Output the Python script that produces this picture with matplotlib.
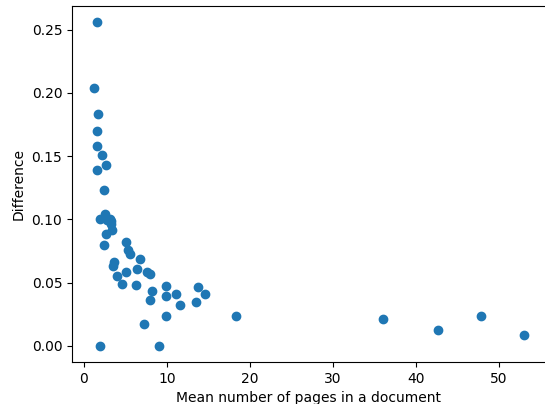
import numpy as np
import matplotlib
matplotlib.use('Agg')
import matplotlib.pyplot as plt

# mean pages per document vs difference
mean_pages = [1.54, 1.17, 1.75, 1.54, 1.63, 2.21, 2.67, 1.63, 2.46,
              1.96, 2.59, 2.8, 3.21, 3.3, 3.3, 3.42, 2.67, 2.46,
              5.13, 5.38, 5.55, 6.72, 3.63, 3.51, 6.39, 7.6, 7.93,
              5.13, 3.96, 4.55, 6.3, 9.85, 13.73, 8.22, 11.1, 14.6,
              9.85, 7.97, 11.56, 13.52, 9.93, 18.36, 7.3, 36.0, 42.7,
              47.9, 53.1, 1.96, 9.0]
difference = [0.256, 0.204, 0.1835, 0.170, 0.158, 0.151, 0.143, 0.139, 0.123,
              0.1005, 0.104, 0.0997, 0.1005, 0.0965, 0.099, 0.0918, 0.0883, 0.080,
              0.0825, 0.0754, 0.0728, 0.0686, 0.0662, 0.0628, 0.0604, 0.058, 0.057,
              0.058, 0.0549, 0.0488, 0.048, 0.0472, 0.0467, 0.0435, 0.0411, 0.0411,
              0.0396, 0.0359, 0.0322, 0.0345, 0.0237, 0.0237, 0.0169, 0.0211, 0.0129,
              0.0237, 0.0084, 0.0, 0.0]

fig = plt.figure(figsize=(5.45, 4.04), dpi=100)
ax = fig.add_axes([72/545, 42/404, 474/545, 356/404])

ax.scatter(mean_pages, difference)
ax.set_xlabel('Mean number of pages in a document')
ax.set_ylabel('Difference')

fig.savefig('out.png', dpi=100)
